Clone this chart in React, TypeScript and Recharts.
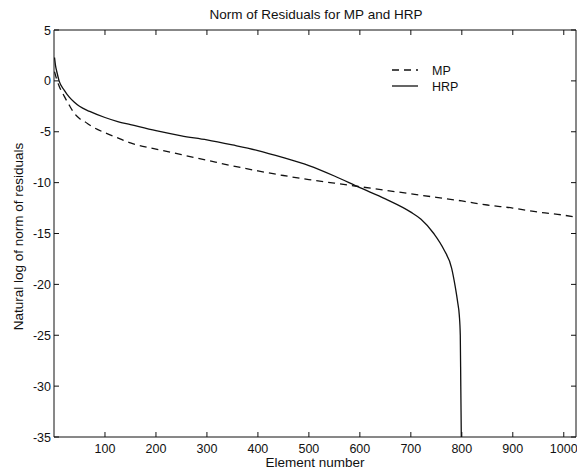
import React from 'react';
import { LineChart, Line, XAxis, YAxis, Legend, Label } from 'recharts';

const xTicks = [100, 200, 300, 400, 500, 600, 700, 800, 900, 1000];
const yTicks = [-35, -30, -25, -20, -15, -10, -5, 0, 5];

const mpX = [1, 5, 10, 20, 30, 40, 50, 60, 75, 100, 125, 150, 200, 250, 300, 350, 400, 450, 500, 550, 600, 650, 700, 750, 800, 850, 900, 950, 1000, 1024];
const mpY = [0.9, 0.2, -0.5, -1.5, -2.4, -3.2, -3.7, -4.0, -4.5, -5.1, -5.6, -6.1, -6.7, -7.25, -7.8, -8.35, -8.85, -9.3, -9.7, -10.05, -10.4, -10.75, -11.1, -11.45, -11.8, -12.2, -12.5, -12.9, -13.2, -13.4];

const hrpX = [1, 3, 6, 10, 20, 30, 40, 50, 70, 100, 125, 150, 200, 250, 300, 350, 400, 450, 500, 550, 600, 650, 700, 720, 745, 765, 780, 787, 792, 795, 797, 798, 799];
const hrpY = [2.3, 1.5, 0.8, 0.0, -0.9, -1.6, -2.1, -2.5, -3.0, -3.6, -4.0, -4.3, -4.9, -5.4, -5.8, -6.3, -6.85, -7.55, -8.33, -9.35, -10.5, -11.6, -12.9, -13.6, -15.0, -16.6, -18.4, -20.2, -21.8, -23.0, -25.0, -30, -35];

const mpData = mpX.map((x, i) => ({ x, v: mpY[i] }));
const hrpData = hrpX.map((x, i) => ({ x, v: hrpY[i] }));

const FONT = '"Liberation Sans", Arial, Helvetica, sans-serif';
const INK = '#111';

const BottomTick = (props: any) => {
  const { x, y, payload } = props;
  return (
    <g>
      <line x1={x} y1={y} x2={x} y2={y - 5} stroke={INK} strokeWidth={1} />
      <text x={x} y={y + 16} textAnchor="middle" fontSize={12.5} fontFamily={FONT} fill={INK}>
        {payload.value}
      </text>
    </g>
  );
};

const TopTick = (props: any) => {
  const { x, y } = props;
  return <line x1={x} y1={y} x2={x} y2={y + 5} stroke={INK} strokeWidth={1} />;
};

const LeftTick = (props: any) => {
  const { x, y, payload } = props;
  return (
    <g>
      <line x1={x} y1={y} x2={x + 5} y2={y} stroke={INK} strokeWidth={1} />
      <text x={x - 3} y={y + 4.5} textAnchor="end" fontSize={12.5} fontFamily={FONT} fill={INK}>
        {payload.value}
      </text>
    </g>
  );
};

const RightTick = (props: any) => {
  const { x, y } = props;
  return <line x1={x} y1={y} x2={x - 5} y2={y} stroke={INK} strokeWidth={1} />;
};

const LegendContent = () => (
  <svg width={90} height={34} style={{ display: 'block' }}>
    <line x1={4} y1={10} x2={30} y2={10} stroke={INK} strokeWidth={1.3} strokeDasharray="7 5" />
    <text x={44} y={14.5} fontSize={12.5} fontFamily={FONT} fill={INK}>MP</text>
    <line x1={4} y1={26} x2={30} y2={26} stroke={INK} strokeWidth={1.3} />
    <text x={44} y={30.5} fontSize={12.5} fontFamily={FONT} fill={INK}>HRP</text>
  </svg>
);

export default function App() {
  return (
    <div style={{ position: 'absolute', left: 0, top: 0, background: '#fff' }}>
      <LineChart width={577} height={471} margin={{ top: 29, right: 0, bottom: 0, left: 0 }}>
        <XAxis
          dataKey="x"
          type="number"
          domain={[0, 1024]}
          ticks={xTicks}
          interval={0}
          allowDataOverflow
          height={34}
          tickSize={0}
          tickMargin={0}
          tickLine={false}
          tick={<BottomTick />}
          axisLine={{ stroke: INK }}
        >
          <Label
            content={(p: any) => {
              const vb = p.viewBox || { x: 54, y: 437, width: 522, height: 34 };
              return (
                <text x={vb.x + vb.width / 2} y={vb.y + 30} textAnchor="middle" fontSize={13.5} fontFamily={FONT} fill={INK}>
                  Element number
                </text>
              );
            }}
          />
        </XAxis>
        <XAxis
          xAxisId="top"
          orientation="top"
          dataKey="x"
          type="number"
          domain={[0, 1024]}
          ticks={xTicks}
          interval={0}
          allowDataOverflow
          height={1}
          tickSize={0}
          tickMargin={0}
          tickLine={false}
          tick={<TopTick />}
          axisLine={{ stroke: INK }}
        >
          <Label
            content={(p: any) => {
              const vb = p.viewBox || { x: 54, y: 29, width: 522, height: 1 };
              return (
                <text x={vb.x + vb.width / 2 + 1} y={vb.y + vb.height - 11} textAnchor="middle" fontSize={13.5} fontFamily={FONT} fill={INK}>
                  Norm of Residuals for MP and HRP
                </text>
              );
            }}
          />
        </XAxis>
        <YAxis
          type="number"
          domain={[-35, 5]}
          ticks={yTicks}
          interval={0}
          allowDataOverflow
          width={54}
          tickSize={0}
          tickMargin={0}
          tickLine={false}
          tick={<LeftTick />}
          axisLine={{ stroke: INK }}
        >
          <Label
            content={(p: any) => {
              const vb = p.viewBox || { x: 0, y: 30, width: 54, height: 407 };
              const cx = vb.x + 22.5;
              const cy = vb.y + vb.height / 2 + 3;
              return (
                <text x={cx} y={cy} transform={`rotate(-90 ${cx} ${cy})`} textAnchor="middle" fontSize={13.5} fontFamily={FONT} fill={INK}>
                  Natural log of norm of residuals
                </text>
              );
            }}
          />
        </YAxis>
        <YAxis
          yAxisId="right"
          orientation="right"
          type="number"
          domain={[-35, 5]}
          ticks={yTicks}
          interval={0}
          allowDataOverflow
          width={1}
          tickSize={0}
          tickMargin={0}
          tickLine={false}
          tick={<RightTick />}
          axisLine={{ stroke: INK }}
        />
        <Legend
          layout="horizontal"
          verticalAlign="middle"
          align="center"
          content={<LegendContent />}
          wrapperStyle={{ position: 'absolute', left: 388, top: 60, width: 90, height: 34 }}
        />
        <Line
          data={mpData}
          dataKey="v"
          name="frame"
          xAxisId="top"
          yAxisId="right"
          type="linear"
          stroke="none"
          strokeWidth={0}
          dot={false}
          activeDot={false}
          legendType="none"
          isAnimationActive={false}
        />
        <Line
          data={mpData}
          dataKey="v"
          name="MP"
          type="monotone"
          stroke={INK}
          strokeWidth={1.3}
          strokeDasharray="7 5"
          dot={false}
          isAnimationActive={false}
        />
        <Line
          data={hrpData}
          dataKey="v"
          name="HRP"
          type="monotone"
          stroke={INK}
          strokeWidth={1.3}
          dot={false}
          isAnimationActive={false}
        />
      </LineChart>
    </div>
  );
}
